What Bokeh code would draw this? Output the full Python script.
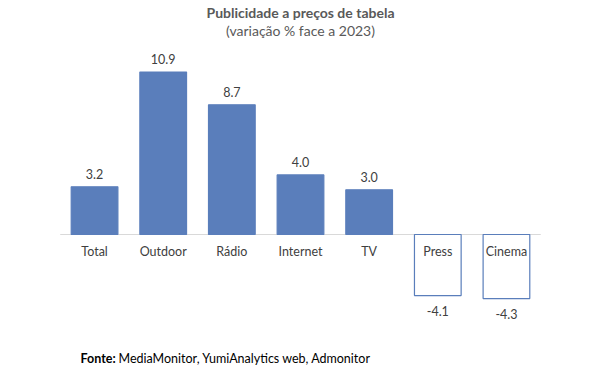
from bokeh.plotting import figure
from bokeh.models import ColumnDataSource, Range1d, FactorRange, Label
from bokeh.core.properties import value
from bokeh.embed import file_html
from bokeh.resources import INLINE

categories = ["Total", "Outdoor", "Rádio", "Internet", "TV", "Press", "Cinema"]
values = [3.2, 10.9, 8.7, 4.0, 3.0, -4.1, -4.3]
value_labels = ["3.2", "10.9", "8.7", "4.0", "3.0", "-4.1", "-4.3"]

BLUE = "#5A7EBB"
TXT = "#404040"
FONT = "Lato"

fills = [BLUE if v >= 0 else "white" for v in values]
src = ColumnDataSource(dict(cat=categories, val=values, fill=fills, lab=value_labels,
                            zero=[0] * len(categories)))
pos = ColumnDataSource(dict(cat=[c for c, v in zip(categories, values) if v >= 0],
                            val=[v for v in values if v >= 0],
                            lab=[l for l, v in zip(value_labels, values) if v >= 0]))
neg = ColumnDataSource(dict(cat=[c for c, v in zip(categories, values) if v < 0],
                            val=[v for v in values if v < 0],
                            lab=[l for l, v in zip(value_labels, values) if v < 0]))

xr = FactorRange(factors=categories, range_padding=0.87, range_padding_units="absolute")
p = figure(x_range=xr, y_range=Range1d(-9.26, 15.70), width=600, height=372,
           output_backend="svg", toolbar_location=None,
           x_axis_location=None, y_axis_location=None,
           min_border=0)
p.outline_line_color = None
p.grid.visible = False
p.background_fill_color = "white"
p.border_fill_color = "white"

# zero baseline spanning the category band
p.segment(x0=[(categories[0], -0.5)], y0=[0], x1=[(categories[-1], 0.5)], y1=[0],
          line_color="#D9D9D9", line_width=1)

p.vbar(x="cat", top="val", bottom=0, width=0.68, source=src,
       fill_color="fill", line_color=BLUE, line_width=1.2)

p.text(x="cat", y="val", text="lab", source=pos, text_align="center", text_baseline="bottom",
       y_offset=-8, text_font=value(FONT), text_font_size="12.5px", text_color=TXT)
p.text(x="cat", y="val", text="lab", source=neg, text_align="center", text_baseline="top",
       y_offset=10, text_font=value(FONT), text_font_size="12.5px", text_color=TXT)

# category labels just under the zero line
p.text(x="cat", y="zero", text="cat", source=src, text_align="center", text_baseline="top",
       y_offset=10, text_font=value(FONT), text_font_size="12.5px", text_color=TXT)

p.add_layout(Label(x=300, y=360, x_units="screen", y_units="screen",
                   text="Publicidade a preços de tabela", text_align="center",
                   text_baseline="middle", text_font=FONT, text_font_size="14px",
                   text_font_style="bold", text_color="#595959"))
p.add_layout(Label(x=300, y=342, x_units="screen", y_units="screen",
                   text="(variação % face a 2023)", text_align="center",
                   text_baseline="middle", text_font=FONT, text_font_size="14px",
                   text_color="#595959"))

p.add_layout(Label(x=80, y=14, x_units="screen", y_units="screen", text="Fonte:",
                   text_font=FONT, text_font_size="12.5px", text_font_style="bold",
                   text_color="black", text_baseline="middle"))
p.add_layout(Label(x=118, y=14, x_units="screen", y_units="screen",
                   text="MediaMonitor, YumiAnalytics web, Admonitor",
                   text_font=FONT, text_font_size="12.5px", text_color="black",
                   text_baseline="middle"))

open("out.html", "w").write(file_html(p, INLINE))
